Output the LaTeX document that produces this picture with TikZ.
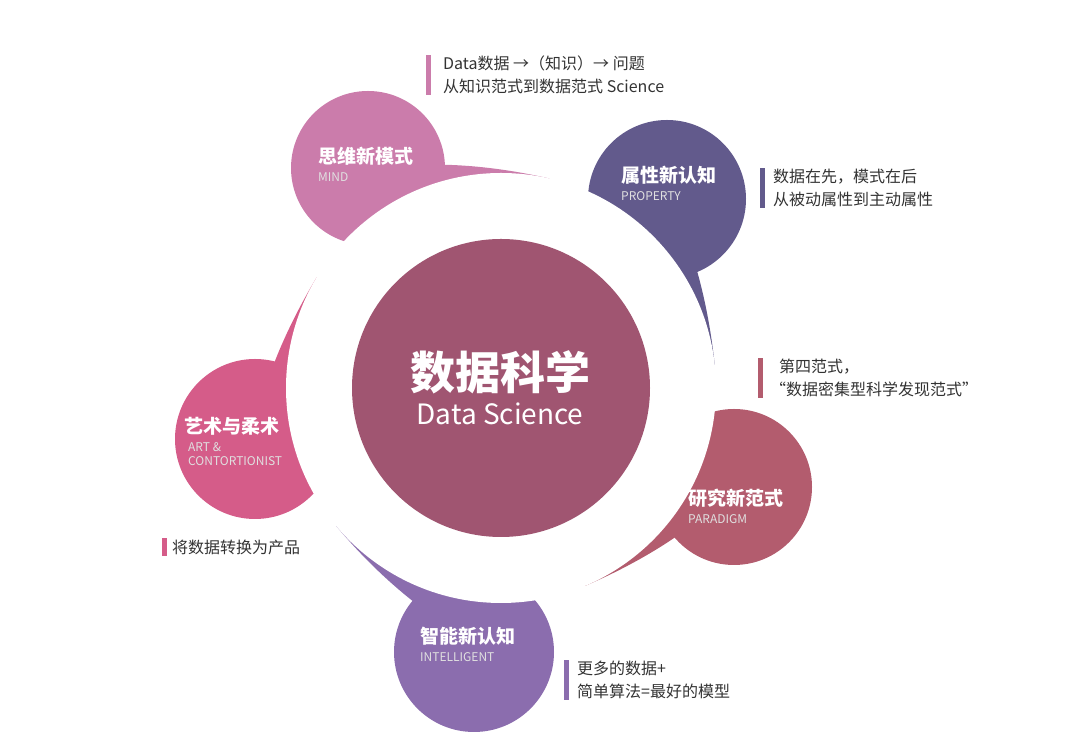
\documentclass[tikz,border=0pt]{standalone}
\usepackage{fontspec}
\setmainfont{Noto Sans CJK SC}
\usepackage{tikz}
\usetikzlibrary{positioning}

\definecolor{mindc}{HTML}{CB7CAB}
\definecolor{propc}{HTML}{625A8C}
\definecolor{paradc}{HTML}{B35C6E}
\definecolor{intelc}{HTML}{8B6DAE}
\definecolor{artc}{HTML}{D55C89}
\definecolor{corec}{HTML}{A05571}
\definecolor{txtc}{HTML}{333333}

\tikzset{
    head/.style={anchor=west, text=white, font=\bfseries\fontsize{19}{21}\selectfont, inner sep=0pt},
    sub/.style={anchor=west, text=white!88!black, font=\fontsize{12}{14}\selectfont, inner sep=0pt, align=left},
    note/.style={anchor=west, text=txtc, font=\fontsize{16}{23}\selectfont, inner sep=0pt, align=left},
}

\begin{document}
\begin{tikzpicture}[x=1pt, y=1pt]

    \pgfmathsetmacro{\cx}{501}
    \pgfmathsetmacro{\cy}{366}
    \pgfmathsetmacro{\ring}{215}
    \pgfmathsetmacro{\tw}{40}

    \useasboundingbox (0,0) rectangle (1080,754);

    % tails: petal angle / tip angle / colour
    \foreach \a/\b/\col in {121/77/mindc, 49/6/propc, -23/-67/paradc, -96/-140/intelc, 192/149/artc}{
        \fill[\col] (\cx,\cy) -- plot[domain=\b:\a, samples=50]
            ({\cx+(\ring+\tw*((\x-\b)/(\a-\b))^2)*cos(\x)}, {\cy+(\ring+\tw*((\x-\b)/(\a-\b))^2)*sin(\x)}) -- cycle;
    }

    % petals
    \fill[mindc] (368,586) circle (77);
    \fill[propc] (667,555) circle (79);
    \fill[paradc] (734,267) circle (78);
    \fill[intelc] (474,102) circle (80);
    \fill[artc] (255,315) circle (80);

    \fill[white] (\cx,\cy) circle (\ring);
    \fill[corec] (\cx,\cy) circle (149);

    % centre
    \node[text=white, font=\bfseries\fontsize{45}{50}\selectfont] (core) at (500,382) {数据科学};
    \node[text=white, font=\fontsize{28}{30}\selectfont, below=2 of core] (coreen) {Data Science};

    % petal labels
    \node[head] (mind) at (318,598) {思维新模式};
    \node[sub, below=7 of mind.south west, anchor=north west] (minden) {MIND};
    \node[head] (prop) at (621,579) {属性新认知};
    \node[sub, below=7 of prop.south west, anchor=north west] (propen) {PROPERTY};
    \node[head] (parad) at (688,256) {研究新范式};
    \node[sub, below=7 of parad.south west, anchor=north west] (paraden) {PARADIGM};
    \node[head] (intel) at (420,118) {智能新认知};
    \node[sub, below=7 of intel.south west, anchor=north west] (intelen) {INTELLIGENT};
    \node[head] (art) at (184,328) {艺术与柔术};
    \node[sub, below=7 of art.south west, anchor=north west, xshift=4] (arten) {ART \&\\CONTORTIONIST};

    % notes with bars
    \fill[mindc] (426,659) rectangle (431,699);
    \node[note] (mindnote) at (443,679) {Data数据 →（知识）→ 问题\\从知识范式到数据范式 Science};
    \fill[propc] (760,546) rectangle (765,586);
    \node[note] (propnote) at (773,566) {数据在先，模式在后\\从被动属性到主动属性};
    \fill[paradc] (758,356) rectangle (763,396);
    \node[note] (paradnote) at (770,376) {\hspace{9pt}第四范式，\\“数据密集型科学发现范式”};
    \fill[artc] (162,198) rectangle (167,216);
    \node[note] (artnote) at (172,207) {将数据转换为产品};
    \fill[intelc] (564,54) rectangle (569,94);
    \node[note] (intelnote) at (577,74) {更多的数据+\\简单算法=最好的模型};

\end{tikzpicture}
\end{document}
